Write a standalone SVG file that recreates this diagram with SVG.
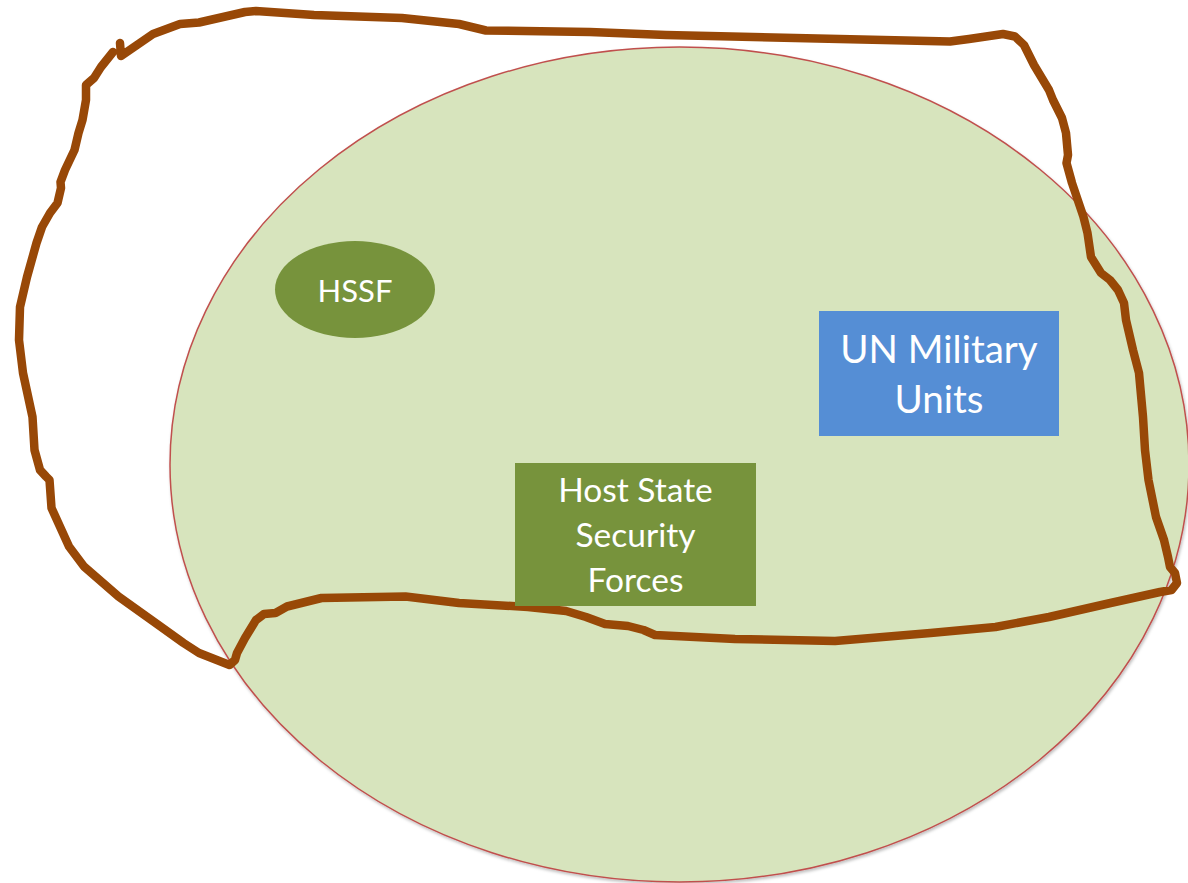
<svg xmlns="http://www.w3.org/2000/svg" width="1188" height="883" viewBox="0 0 1188 883">
  <defs>
    <style>
      .lbl { font-family: Lato, "Open Sans", "Liberation Sans", sans-serif; fill: #ffffff; text-anchor: middle; }
      .green { fill: #77933c; }
      .blue { fill: #558ed5; }
      .scribble { fill: none; stroke: #984807; stroke-width: 8.5; stroke-linecap: round; stroke-linejoin: round; }
    </style>
    <filter id="shadow" x="-5%" y="-5%" width="110%" height="112%">
      <feDropShadow dx="1" dy="2" stdDeviation="1.5" flood-color="#000000" flood-opacity="0.25"/>
    </filter>
  </defs>
  <rect x="0" y="0" width="1188" height="883" fill="#ffffff"/>

  <g id="mission-area">
    <ellipse cx="679.5" cy="464.5" rx="509.5" ry="417.5" fill="#d7e4bd" stroke="#c0504d" stroke-width="1.5" filter="url(#shadow)"/>
  </g>

  <g id="connectors">
    <path id="boundary" class="scribble" d="M120,43 L121,56 L153,34 L180,24 L199,22.5 L245,12 L256,11 L314,15 L402,18 L459,24 L486,30.5 L590,32 L666,35 L950,41.5 L969,39 L1003,34 L1015,36.5 L1024,45 L1034,65 L1049,90 L1053,100 L1062,118 L1066,133 L1068,155 L1066.5,163 L1072,183 L1083.5,217 L1087.5,233 L1091,257 L1101,273 L1110,280 L1118,290 L1124,303 L1126,320 L1133,350 L1139,373 L1143,417 L1145,450 L1148.5,480 L1156,517 L1164,540 L1168,557 L1170,567 L1175,573 L1177,583 L1171.5,590 L1160,592 L1110.5,603 L1049,617 L995.5,627 L930.5,633 L835,641 L735,639 L655,635 L643.5,630 L628,626 L605,624 L586,617 L566,611 L528,607 L459,603 L405.5,596.5 L321.5,598 L287,606.5 L275.5,613 L264,614 L256,620 L245,638 L237,653 L235,660 L229.5,665 L199,653 L183.5,643 L160.5,626.5 L118.5,596.5 L84,566.5 L69,546.5 L51.5,508 L49.5,480 L46,476.5 L40,470 L34.5,450 L32.5,417 L23,373 L19,340 L20,307 L27,277 L36.5,243 L42,227 L50,213 L57.5,203 L61,188 L60.5,182 L65,170 L74.5,150 L78.5,133 L82.5,120 L86,100 L86,85 L94,78 L101,67 L113,52"/>
  </g>

  <g id="hssf">
    <ellipse class="green" cx="355" cy="289.5" rx="80" ry="48.5"/>
    <text class="lbl" x="355" y="302" font-size="31">HSSF</text>
  </g>

  <g id="un-military-units">
    <rect class="blue" x="819" y="311" width="240" height="125"/>
    <text class="lbl" x="939" y="363" font-size="38.5">UN Military</text>
    <text class="lbl" x="939" y="413" font-size="38.5">Units</text>
  </g>

  <g id="host-state-security-forces">
    <rect class="green" x="515" y="463" width="241" height="143"/>
    <text class="lbl" x="635.5" y="502" font-size="33.5">Host State</text>
    <text class="lbl" x="635.5" y="547" font-size="33.5">Security</text>
    <text class="lbl" x="635.5" y="592" font-size="33.5">Forces</text>
  </g>
</svg>
